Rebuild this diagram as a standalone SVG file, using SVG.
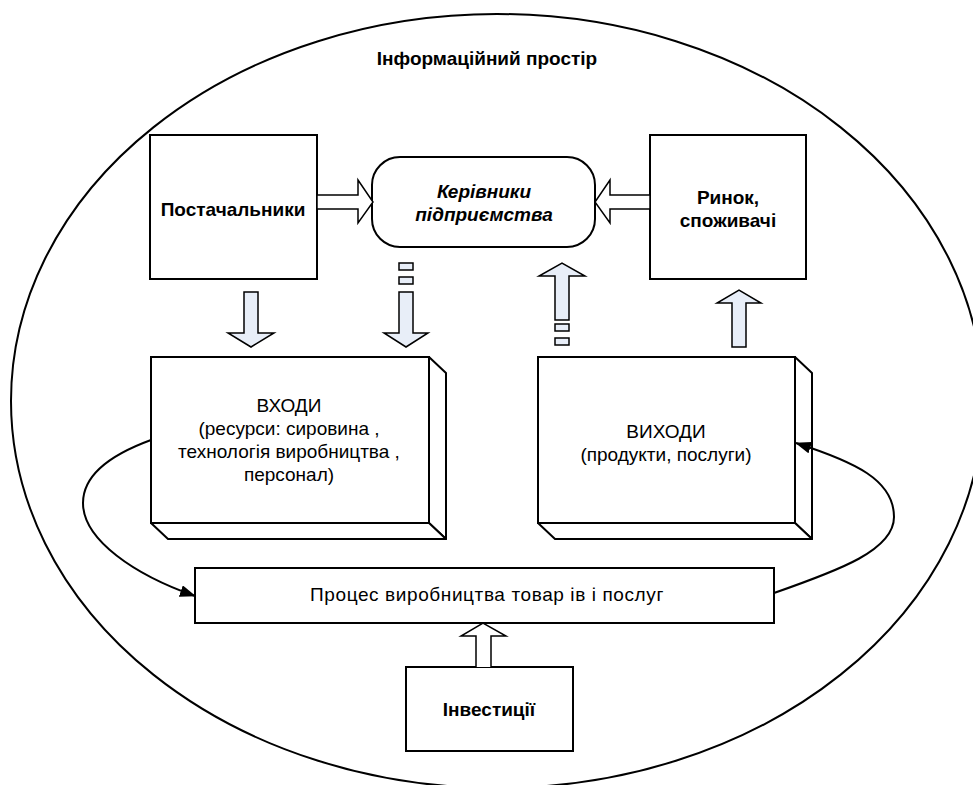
<svg xmlns="http://www.w3.org/2000/svg" width="973" height="785" viewBox="0 0 973 785">
  <style>
    .box { fill: #ffffff; stroke: #000000; stroke-width: 2; }
    .side { fill: #ffffff; stroke: #000000; stroke-width: 2; stroke-linejoin: round; }
    .flow { fill: #e8eef8; stroke: #000000; stroke-width: 1.5; stroke-linejoin: miter; }
    .hollow { fill: #ffffff; stroke: #000000; stroke-width: 1.5; stroke-linejoin: miter; }
    .link { fill: none; stroke: #000000; stroke-width: 2; }
    .t { font-family: "Liberation Sans", Arial, sans-serif; font-size: 19px; fill: #000000; text-anchor: middle; }
    .b { font-weight: bold; }
    .i { font-style: italic; font-weight: bold; }
  </style>
  <defs>
    <marker id="head" markerWidth="16" markerHeight="12" refX="15" refY="6" orient="auto" markerUnits="userSpaceOnUse">
      <path d="M0,0 L16,6 L0,12 z" fill="#000000"/>
    </marker>
  </defs>

  <!-- information space boundary -->
  <g id="space">
    <ellipse cx="497" cy="401" rx="486" ry="387" fill="none" stroke="#000000" stroke-width="2"/>
    <text class="t b" x="487" y="65" font-size="20">Інформаційний простір</text>
  </g>

  <g id="suppliers">
    <rect class="box" x="150" y="135" width="167" height="144"/>
    <text class="t b" x="233" y="216">Постачальники</text>
  </g>

  <g id="managers">
    <rect class="box" x="372" y="157" width="223" height="90" rx="28" ry="28"/>
    <text class="t i" x="484" y="198">Керівники</text>
    <text class="t i" x="484" y="221">підприємства</text>
  </g>

  <g id="market">
    <rect class="box" x="650" y="135" width="156" height="144"/>
    <text class="t b" x="728" y="204">Ринок,</text>
    <text class="t b" x="728" y="227">споживачі</text>
  </g>

  <g id="inputs">
    <path class="side" d="M429,357 L446,373 V539 L429,523 z"/>
    <path class="side" d="M151,523 H429 L446,539 H168 z"/>
    <rect class="box" x="151" y="357" width="278" height="166"/>
    <text class="t" x="289" y="412">ВХОДИ</text>
    <text class="t" x="289" y="435">(ресурси: сировина ,</text>
    <text class="t" x="289" y="458">технологія виробництва ,</text>
    <text class="t" x="289" y="481">персонал)</text>
  </g>

  <g id="outputs">
    <path class="side" d="M795,357 L812,373 V539 L795,523 z"/>
    <path class="side" d="M538,523 H795 L812,539 H555 z"/>
    <rect class="box" x="538" y="357" width="257" height="166"/>
    <text class="t" x="666" y="438">ВИХОДИ</text>
    <text class="t" x="666" y="461">(продукти, послуги)</text>
  </g>

  <g id="process">
    <rect class="box" x="195" y="568" width="579" height="55"/>
    <text class="t" x="487" y="601" letter-spacing="0.6">Процес виробництва товар ів і послуг</text>
  </g>

  <g id="investments">
    <rect class="box" x="406" y="667" width="167" height="84"/>
    <text class="t b" x="489" y="716">Інвестиції</text>
  </g>

  <!-- block arrows and connectors -->
  <g id="connectors">
    <!-- suppliers -> managers -->
    <path class="hollow" d="M317,195 H358 V180 L373,202 L358,223 V209 H317 z"/>
    <!-- market -> managers -->
    <path class="hollow" d="M650,195 H610 V180 L595,202 L610,223 V209 H650 z"/>
    <!-- suppliers -> inputs -->
    <path class="flow" d="M244,292 H258 V333 H274 L251,347 L228,333 H244 z"/>
    <!-- managers -> inputs (dashed) -->
    <rect class="flow" x="399" y="263" width="14" height="7"/>
    <rect class="flow" x="399" y="277" width="14" height="7"/>
    <path class="flow" d="M399,292 H413 V333 H428 L406,347 L384,333 H399 z"/>
    <!-- outputs -> managers (dashed) -->
    <path class="flow" d="M555,320 H569 V276 H585 L562,263 L539,276 H555 z"/>
    <rect class="flow" x="555" y="324" width="14" height="7"/>
    <rect class="flow" x="555" y="338" width="14" height="7"/>
    <!-- outputs -> market -->
    <path class="flow" d="M732,347 H746 V303 H761 L739,290 L717,303 H732 z"/>
    <!-- investments -> process -->
    <path class="hollow" d="M476,667 V636 H461 L483,623 L506,636 H491 V667"/>
    <!-- inputs -> process -->
    <path class="link" d="M151,440 C110,455 83,475 83,503 C83,540 135,575 195,596" marker-end="url(#head)"/>
    <!-- process -> outputs -->
    <path class="link" d="M774,593 C840,570 894,550 894,517 C894,480 855,462 796,443" marker-end="url(#head)"/>
  </g>
</svg>
